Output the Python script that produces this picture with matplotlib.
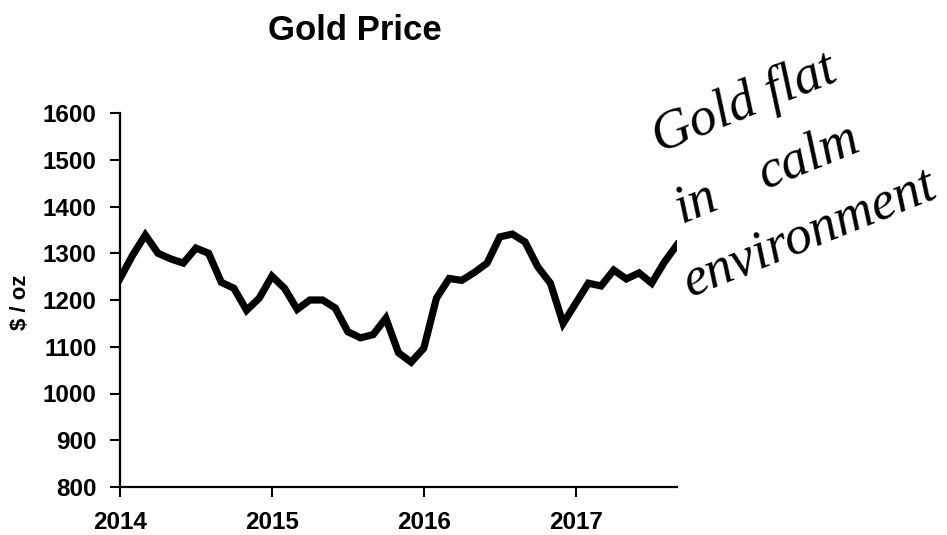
import numpy as np
import matplotlib
matplotlib.use('Agg')
import matplotlib.pyplot as plt

# monthly gold price, Jan 2014 .. Sep 2017 ($/oz)
prices = [1246, 1296, 1339, 1300, 1288, 1279, 1311, 1300, 1238, 1225,
          1178, 1204, 1251, 1225, 1180, 1200, 1200, 1183, 1132, 1119,
          1126, 1161, 1087, 1067, 1097, 1204, 1246, 1242, 1259, 1279,
          1335, 1341, 1324, 1271, 1236, 1150, 1193, 1236, 1230, 1264,
          1245, 1258, 1236, 1281, 1318]
start_year = 2014
year_ticks = [2014, 2015, 2016, 2017]
price_ticks = list(range(800, 1700, 100))
note_lines = ['Gold flat', 'in', 'calm', 'environment']

W, H = 947, 535
plt.rcParams['font.family'] = ['Liberation Sans', 'DejaVu Sans']

fig = plt.figure(figsize=(W / 100, H / 100), dpi=100)
ax = fig.add_axes([120 / W, 1 - 487 / H, 557 / W, 374 / H])

t = start_year + np.arange(len(prices)) / 12.0
ax.plot(t, prices, color='black', linewidth=5.2, solid_joinstyle='miter')

ax.set_xlim(start_year, t[-1])
ax.set_ylim(800, 1600)
ax.set_xticks(year_ticks)
ax.set_yticks(price_ticks)
ax.tick_params(direction='out', length=7, width=1.5, labelsize=17.5, pad=10)
for lab in ax.get_xticklabels() + ax.get_yticklabels():
    lab.set_fontweight('bold')
for loc, spine in ax.spines.items():
    if loc in ['left', 'bottom']:
        spine.set_linewidth(1.6)
    else:
        spine.set_color('none')

fig.text(355 / W, 1 - 30 / H, 'Gold Price', fontsize=25, fontweight='bold',
         ha='center', va='center')
fig.text(20 / W, 1 - 302 / H, '$ / oz', fontsize=16, fontweight='bold',
         rotation=90, ha='center', va='center')

# handwritten note
note_pos = [(660, 153), (682, 223), (765, 190), (690, 297)]
for txt, (px, py) in zip(note_lines, note_pos):
    fig.text(px / W, 1 - py / H, txt, fontsize=39, style='italic',
             family='Liberation Serif', rotation=22, rotation_mode='anchor',
             ha='left', va='baseline')

fig.savefig('out.png', dpi=100)
